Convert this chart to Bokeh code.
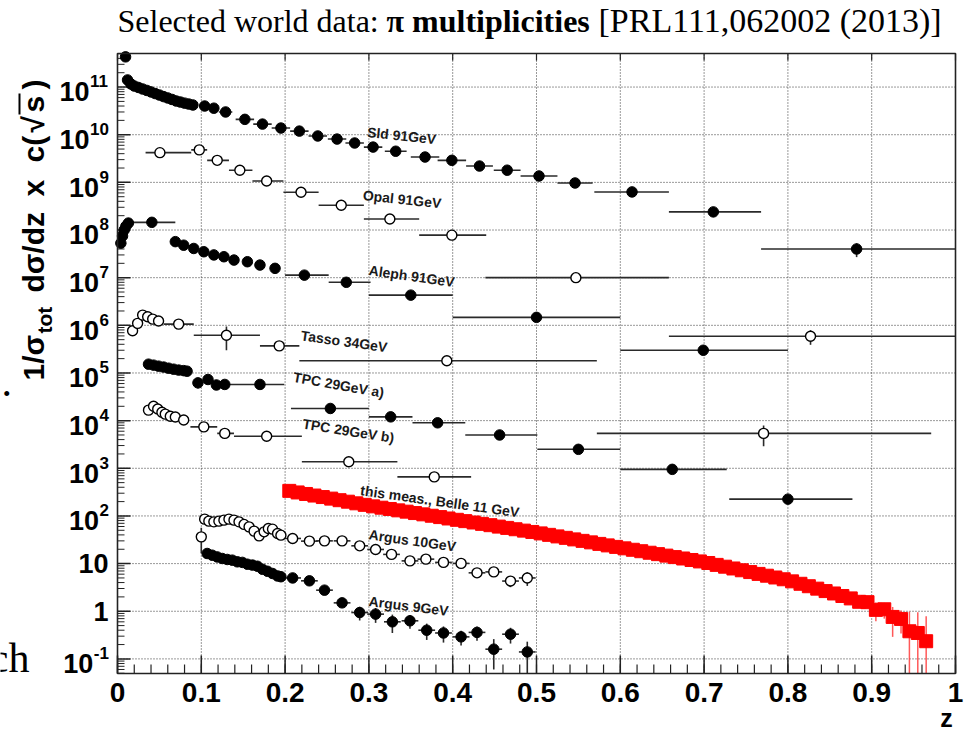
import math
from bokeh.plotting import figure
from bokeh.models import Label, Range1d
from bokeh.embed import file_html
from bokeh.resources import INLINE

# ---------------- data: pion multiplicities, 1/sigma dsigma/dz (scaled) ----------------
# SLD 91 GeV (filled)
sld_dense_z = [0.0096, 0.012, 0.016, 0.020, 0.025, 0.030, 0.035, 0.040, 0.045, 0.050,
               0.055, 0.060, 0.065, 0.070, 0.075, 0.080, 0.085, 0.090]
sld_dense_y = [4.3e11, 1.41e11, 1.16e11, 1.05e11, 9.8e10, 9.1e10, 8.5e10, 7.9e10, 7.3e10, 6.8e10,
               6.3e10, 5.9e10, 5.5e10, 5.1e10, 4.85e10, 4.6e10, 4.4e10, 4.2e10]
sld_z = [0.104, 0.115, 0.129, 0.152, 0.173, 0.195, 0.217, 0.239, 0.262, 0.283, 0.305,
         0.332, 0.367, 0.399, 0.432, 0.465, 0.503, 0.546, 0.614, 0.711, 0.882]
sld_y = [4.0e10, 3.6e10, 3.0e10, 2.1e10, 1.67e10, 1.38e10, 1.19e10, 9.4e9, 8.1e9, 6.7e9, 5.5e9,
         4.5e9, 3.4e9, 2.9e9, 2.2e9, 1.8e9, 1.36e9, 9.7e8, 6.3e8, 2.4e8, 4.0e7]
sld_zlo = [0.100, 0.110, 0.121, 0.141, 0.162, 0.184, 0.206, 0.228, 0.251, 0.272, 0.294,
           0.319, 0.350, 0.382, 0.416, 0.449, 0.481, 0.525, 0.569, 0.658, 0.768]
sld_zhi = [0.108, 0.120, 0.137, 0.163, 0.184, 0.206, 0.228, 0.250, 0.273, 0.294, 0.316,
           0.345, 0.384, 0.416, 0.448, 0.481, 0.525, 0.567, 0.658, 0.768, 1.0]
sld_dy = [0] * 20 + [1.3e7]

# OPAL 91 GeV (open)
opal_z = [0.0506, 0.0976, 0.119, 0.146, 0.178, 0.219, 0.267, 0.325, 0.399, 0.547, 0.827]
opal_y = [4.2e9, 4.8e9, 2.9e9, 1.8e9, 1.07e9, 6.2e8, 3.3e8, 1.7e8, 7.8e7, 1.0e7, 5.9e5]
opal_zlo = [0.0335, 0.088, 0.107, 0.133, 0.161, 0.198, 0.240, 0.294, 0.360, 0.439, 0.658]
opal_zhi = [0.088, 0.107, 0.133, 0.161, 0.198, 0.240, 0.294, 0.360, 0.440, 0.658, 1.0]
opal_dy = [0] * 10 + [2.0e5]

# ALEPH 91 GeV (filled)
aleph_dense_z = [0.004, 0.006, 0.008, 0.010, 0.013, 0.069, 0.079, 0.091, 0.103, 0.115,
                 0.127, 0.139, 0.155, 0.170, 0.188]
aleph_dense_y = [5.3e7, 7.5e7, 1.0e8, 1.2e8, 1.4e8, 5.7e7, 4.8e7, 4.1e7, 3.5e7, 3.0e7,
                 2.75e7, 2.34e7, 2.16e7, 1.84e7, 1.57e7]
aleph_z = [0.041, 0.223, 0.273, 0.350, 0.500, 0.699]
aleph_y = [1.45e8, 1.13e7, 8.0e6, 4.3e6, 1.47e6, 3.0e5]
aleph_zlo = [0.016, 0.200, 0.252, 0.300, 0.400, 0.600]
aleph_zhi = [0.069, 0.252, 0.302, 0.400, 0.600, 0.800]
aleph_dy = [0] * 6

# TASSO 34 GeV (open)
tasso_dense_z = [0.018, 0.024, 0.030, 0.036, 0.042, 0.049]
tasso_dense_y = [7.7e5, 1.1e6, 1.64e6, 1.51e6, 1.35e6, 1.23e6]
tasso_z = [0.073, 0.130, 0.193, 0.393, 0.771]
tasso_y = [1.06e6, 6.2e5, 3.7e5, 1.8e5, 5.4e3]
tasso_zlo = [0.055, 0.091, 0.170, 0.217, 0.572]
tasso_zhi = [0.091, 0.170, 0.217, 0.572, 0.971]
tasso_dy = [0, 3.2e5, 0, 0, 2.5e3]

# TPC 29 GeV a) (filled)
tpca_dense_z = [0.037, 0.043, 0.049, 0.055, 0.061, 0.067, 0.073, 0.079, 0.083]
tpca_dense_y = [1.53e5, 1.46e5, 1.39e5, 1.33e5, 1.26e5, 1.20e5, 1.15e5, 1.12e5, 1.09e5]
tpca_z = [0.096, 0.108, 0.118, 0.128, 0.170, 0.254, 0.326, 0.382, 0.456, 0.550, 0.662, 0.800]
tpca_y = [6.2e4, 7.3e4, 5.6e4, 5.75e4, 5.75e4, 1.8e4, 1.2e4, 9.0e3, 5.0e3, 2.5e3, 950, 225]
tpca_zlo = [0.091, 0.103, 0.113, 0.123, 0.129, 0.207, 0.300, 0.352, 0.415, 0.501, 0.600, 0.730]
tpca_zhi = [0.101, 0.113, 0.123, 0.133, 0.199, 0.300, 0.352, 0.415, 0.501, 0.600, 0.727, 0.877]
tpca_dy = [1.5e4] + [0] * 11

# TPC 29 GeV b) (open)
tpcb_dense_z = [0.037, 0.043, 0.048, 0.053, 0.057, 0.063, 0.069, 0.079]
tpcb_dense_y = [1.66e4, 2.0e4, 1.75e4, 1.5e4, 1.37e4, 1.24e4, 1.19e4, 1.03e4]
tpcb_z = [0.103, 0.128, 0.178, 0.276, 0.378]
tpcb_y = [7.4e3, 5.4e3, 4.7e3, 1.37e3, 660]
tpcb_zlo = [0.087, 0.119, 0.139, 0.220, 0.334]
tpcb_zhi = [0.119, 0.139, 0.220, 0.334, 0.422]
tpcb_dy = [0] * 5

# this measurement, Belle 11 GeV (bins of width 0.01 from z = 0.2)
belle_z = [round(0.205 + 0.01 * i, 3) for i in range(77)]
belle_y = [336, 311, 289, 268, 249, 231, 214, 199, 184, 171,
           159, 149, 140, 131, 123, 115, 108, 101, 94.6, 88.5,
           83.0, 77.8, 72.8, 68.2, 64.0, 59.8, 56.1, 52.6, 49.2, 46.1,
           43.0, 40.1, 37.2, 34.7, 32.2, 30.0, 27.9, 25.9, 24.1, 22.4,
           20.9, 19.5, 18.2, 16.9, 15.8, 14.7, 13.7, 12.8, 11.9, 11.1,
           10.3, 9.40, 8.61, 7.90, 7.24, 6.64, 6.08, 5.57, 5.11, 4.69,
           4.24, 3.77, 3.35, 2.98, 2.65, 2.36, 2.09, 1.86, 1.58, 1.55,
           1.07, 1.10, 0.76, 0.69, 0.38, 0.35, 0.235]
belle_dy = [0] * 64 + [0.25, 0.25, 0.3, 0.45, 0.4, 0.35, 0.45, 0.4, 0.47, 0.35, 0.6, 0.6, 0.55]

# ARGUS 10 GeV (open)
a10_dense_z = [0.104, 0.109, 0.115, 0.121, 0.127, 0.133, 0.139, 0.145, 0.151, 0.157,
               0.163, 0.169, 0.175, 0.180, 0.185, 0.191, 0.195]
a10_dense_y = [85.7, 77.8, 75.2, 77.8, 81.7, 85.7, 81.7, 75.2, 66.4, 59.0,
               48.0, 38.2, 46.4, 54.7, 52.8, 42.9, 39.5]
a10_z = [0.100, 0.209, 0.229, 0.247, 0.268, 0.289, 0.308, 0.327, 0.349, 0.368,
         0.389, 0.410, 0.429, 0.449, 0.469, 0.489]
a10_y = [36.4, 33.7, 29.6, 30.0, 30.0, 23.6, 19.8, 15.6, 11.4, 12.4,
         10.6, 10.1, 6.4, 6.7, 4.3, 5.0]
a10_zlo = [0.100, 0.199, 0.219, 0.237, 0.258, 0.279, 0.298, 0.317, 0.339, 0.358,
           0.379, 0.400, 0.419, 0.439, 0.459, 0.479]
a10_zhi = [0.100, 0.219, 0.239, 0.257, 0.278, 0.299, 0.318, 0.337, 0.359, 0.378,
           0.399, 0.420, 0.439, 0.459, 0.479, 0.499]
a10_dy = [20, 0, 0, 0, 0, 0, 1.5, 1.5, 1.2, 1.2, 1.0, 1.0, 1.0, 1.0, 1.1, 1.6]

# ARGUS 9 GeV (filled)
a9_dense_z = [0.107, 0.113, 0.119, 0.125, 0.131, 0.137, 0.143, 0.149, 0.155, 0.161,
              0.167, 0.173, 0.179, 0.185, 0.191, 0.195]
a9_dense_y = [16.3, 15.0, 13.8, 12.8, 12.2, 11.8, 10.9, 10.6, 9.7, 9.3,
              8.8, 7.6, 6.9, 6.2, 5.5, 5.3]
a9_z = [0.209, 0.229, 0.247, 0.268, 0.289, 0.308, 0.328, 0.349, 0.369, 0.389,
        0.410, 0.429, 0.449, 0.469, 0.489]
a9_y = [5.0, 4.35, 2.77, 1.50, 0.94, 0.87, 0.60, 0.63, 0.40, 0.35,
        0.29, 0.36, 0.16, 0.33, 0.14]
a9_zlo = [0.199, 0.219, 0.237, 0.258, 0.279, 0.298, 0.318, 0.339, 0.359, 0.379,
          0.400, 0.419, 0.439, 0.459, 0.479]
a9_zhi = [0.219, 0.239, 0.257, 0.278, 0.299, 0.318, 0.338, 0.359, 0.379, 0.399,
          0.420, 0.439, 0.459, 0.479, 0.499]
a9_dy = [0.4, 0.35, 0.3, 0.2, 0.3, 0.3, 0.25, 0.2, 0.15, 0.13, 0.1, 0.12, 0.1, 0.12, 0.09]

# axis ticks
x_ticks = [0, 0.1, 0.2, 0.3, 0.4, 0.5, 0.6, 0.7, 0.8, 0.9, 1]
y_exponents = list(range(-1, 12))

# ---------------- geometry ----------------
# The Bokeh frame covers the whole canvas; the ROOT-style plot box with its
# axes, ticks and labels is drawn inside it, so texts around the box are not clipped.
W, H = 969, 732
FL, FR, FT, FB = 117, 955, 53, 673          # plot box edges in canvas pixels
Z0, Z1 = 0.0, 1.0                            # plot box z range
V0, V1 = 0.0494, 5.06e11                     # plot box value range (log)

def zx(px):
    """canvas x pixel -> z"""
    return Z0 + (px - FL) / (FR - FL) * (Z1 - Z0)

def vy(py):
    """canvas y pixel -> value on the log axis"""
    a, b = math.log10(V0), math.log10(V1)
    return 10 ** (b - (py - FT) / (FB - FT) * (b - a))

p = figure(width=W, height=H, y_axis_type="log",
           x_range=Range1d(zx(0), zx(W)), y_range=Range1d(vy(H), vy(0)),
           output_backend="svg", toolbar_location=None,
           min_border_left=0, min_border_right=0, min_border_top=0, min_border_bottom=0)
p.xaxis.visible = False
p.yaxis.visible = False
p.grid.visible = False
p.outline_line_color = None
p.background_fill_color = "white"
p.border_fill_color = "white"

SANS = "Liberation Sans"
SERIF = "Liberation Serif"
TICK = "#222222"

# dotted grid
gx = x_ticks[1:-1]
gy = [10.0 ** k for k in y_exponents]
p.segment(x0=gx, y0=[V0] * len(gx), x1=gx, y1=[V1] * len(gx),
          line_color="#333333", line_dash="1 2", line_width=1)
p.segment(x0=[Z0] * len(gy), y0=gy, x1=[Z1] * len(gy), y1=gy,
          line_color="#333333", line_dash="1 2", line_width=1)

# tick marks (pointing into the box)
x_minor = [round(0.02 * i, 2) for i in range(51)]
p.segment(x0=x_ticks, y0=[V0] * len(x_ticks), x1=x_ticks, y1=[vy(FB - 18)] * len(x_ticks),
          line_color=TICK, line_width=1.5)
p.segment(x0=x_minor, y0=[V0] * len(x_minor), x1=x_minor, y1=[vy(FB - 9)] * len(x_minor),
          line_color=TICK, line_width=1.2)
p.segment(x0=x_ticks, y0=[V1] * len(x_ticks), x1=x_ticks, y1=[vy(FT + 7)] * len(x_ticks),
          line_color=TICK, line_width=1.2)
y_minor = [m * 10.0 ** k for k in range(-2, 12) for m in range(2, 10)]
y_minor = [v for v in y_minor if V0 < v < V1]
p.segment(x0=[Z0] * len(gy), y0=gy, x1=[zx(FL + 13)] * len(gy), y1=gy,
          line_color=TICK, line_width=1.5)
p.segment(x0=[Z0] * len(y_minor), y0=y_minor, x1=[zx(FL + 7)] * len(y_minor), y1=y_minor,
          line_color=TICK, line_width=1)

BAR = "#2a2a2a"

def draw_series(z, y, zlo, zhi, dy, filled, dense_z=(), dense_y=()):
    p.segment(x0=zlo, y0=y, x1=zhi, y1=y, line_color=BAR, line_width=1.6)
    vz = [a for a, e in zip(z, dy) if e > 0]
    vlo = [max(b - e, V0) for b, e in zip(y, dy) if e > 0]
    vhi = [min(b + e, V1) for b, e in zip(y, dy) if e > 0]
    if vz:
        p.segment(x0=vz, y0=vlo, x1=vz, y1=vhi, line_color=BAR, line_width=1.6)
    allz = list(dense_z) + list(z)
    ally = list(dense_y) + list(y)
    if filled:
        p.scatter(allz, ally, marker="circle", size=10.5, fill_color="black", line_color="black")
    else:
        p.scatter(allz, ally, marker="circle", size=10, fill_color="white",
                  line_color="black", line_width=1.4)

# Belle band
bz = [a for a, e in zip(belle_z, belle_dy) if e > 0]
blo = [max(b - e, V0) for b, e in zip(belle_y, belle_dy) if e > 0]
bhi = [b + e for b, e in zip(belle_y, belle_dy) if e > 0]
p.segment(x0=bz, y0=blo, x1=bz, y1=bhi, line_color="#ff3030", line_alpha=0.8, line_width=1.5)
p.scatter(belle_z, belle_y, marker="square", size=13, fill_color="#ff0000", line_color="#ff0000")

draw_series(sld_z, sld_y, sld_zlo, sld_zhi, sld_dy, True, sld_dense_z, sld_dense_y)
draw_series(opal_z, opal_y, opal_zlo, opal_zhi, opal_dy, False)
draw_series(aleph_z, aleph_y, aleph_zlo, aleph_zhi, aleph_dy, True, aleph_dense_z, aleph_dense_y)
draw_series(tasso_z, tasso_y, tasso_zlo, tasso_zhi, tasso_dy, False, tasso_dense_z, tasso_dense_y)
draw_series(tpca_z, tpca_y, tpca_zlo, tpca_zhi, tpca_dy, True, tpca_dense_z, tpca_dense_y)
draw_series(tpcb_z, tpcb_y, tpcb_zlo, tpcb_zhi, tpcb_dy, False, tpcb_dense_z, tpcb_dense_y)
draw_series(a10_z, a10_y, a10_zlo, a10_zhi, a10_dy, False, a10_dense_z, a10_dense_y)
draw_series(a9_z, a9_y, a9_zlo, a9_zhi, a9_dy, True, a9_dense_z, a9_dense_y)

# plot box
p.quad(left=[Z0], right=[Z1], bottom=[V0], top=[V1], fill_color=None,
       line_color=TICK, line_width=1.6)

def add_text(x, y, text, size, style="bold", font=SANS, align="left", baseline="middle",
             angle=0, color="black"):
    p.add_layout(Label(x=x, y=y, text=text, angle=angle, angle_units="deg",
                       text_font=font, text_font_style=style, text_font_size=size,
                       text_color=color, text_align=align, text_baseline=baseline))

# series names, written along each data set
series_names = [
    ("Sld 91GeV", 0.298, 1.14e10, -6),
    ("Opal 91GeV", 0.293, 5.4e8, -6),
    ("Aleph 91GeV", 0.300, 1.44e7, -8),
    ("Tasso 34GeV", 0.219, 6.2e5, -8),
    ("TPC 29GeV a)", 0.210, 8.3e4, -10),
    ("TPC 29GeV b)", 0.221, 8.7e3, -9),
    ("this meas., Belle 11 GeV", 0.290, 348, -8),
    ("Argus 10GeV", 0.300, 41, -8),
    ("Argus 9GeV", 0.300, 1.63, -7),
]
for txt, lx, ly, ang in series_names:
    add_text(lx, ly, txt, "14px", angle=ang, color="#1a1a1a")

# x tick labels
for t in x_ticks:
    add_text(t, vy(692), f"{t:g}", "28px", align="center")

# y tick labels: 10 with superscript exponent
for k in y_exponents:
    if k in (0, 1):
        add_text(zx(108), 10.0 ** k, "1" if k == 0 else "10", "27px", align="right")
        continue
    e = str(k)
    ew = sum(5.7 if ch == "-" else 9.5 for ch in e)
    xb = 108 - ew
    add_text(zx(xb), 10.0 ** (k - 0.10), "10", "27px", align="right")
    add_text(zx(xb + 0.5), 10.0 ** (k + 0.12), e, "17px")

# x axis title
add_text(zx(946), vy(731), "z", "25px", align="center", baseline="bottom")

# y axis title, built from pieces (rotated, reading upwards)
ytitle = [
    ("1/σ", 33, 380, "30px"),
    ("tot", 44, 333, "21px"),
    ("dσ/dz", 33, 292, "30px"),
    ("x", 33, 196, "30px"),
    ("c(", 33, 162, "30px"),
    ("√", 33, 132, "30px"),
    ("s", 33, 112, "30px"),
    (")", 33, 89, "30px"),
]
for txt, px, py, fs in ytitle:
    add_text(zx(px), vy(py), txt, fs, angle=90)
# bar of the square root over "s"
p.segment(x0=[zx(19)], y0=[vy(114)], x1=[zx(19)], y1=[vy(93)], line_color="black", line_width=2)

# title
for txt, px, fs, style in [("Selected world data:", 117, "32px", "normal"),
                           ("π multiplicities", 386, "32px", "bold"),
                           ("[PRL111,062002 (2013)]", 598, "34px", "normal")]:
    add_text(zx(px), vy(20), txt, fs, style=style, font=SERIF)

# fragments of surrounding slide text at the left edge
add_text(zx(29), vy(657), "ch", "42px", style="normal", font=SERIF, align="right")
add_text(zx(1), vy(381), ".", "42px", style="normal", font=SERIF)

open("out.html", "w").write(file_html(p, INLINE))
